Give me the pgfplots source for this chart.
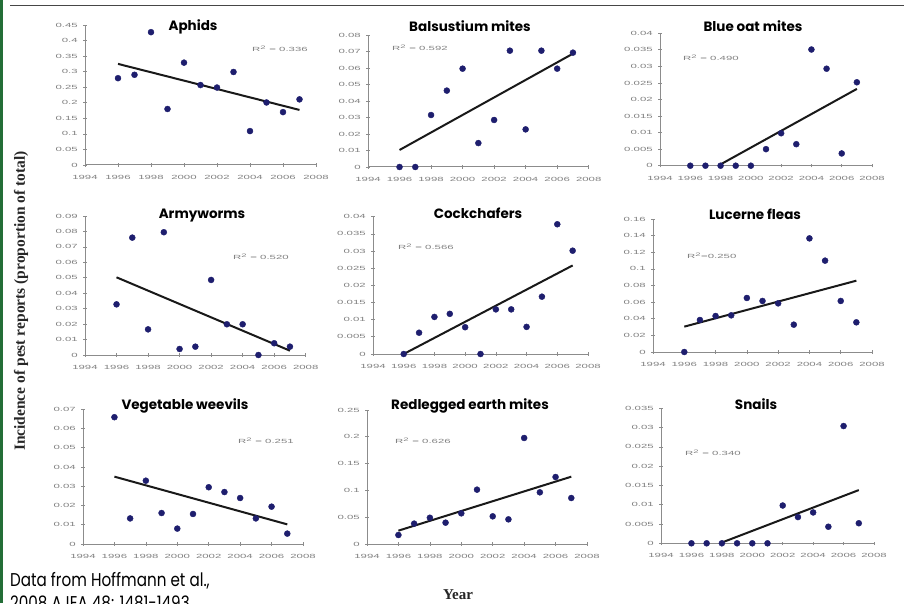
\documentclass[border=0pt]{standalone}
\usepackage{pgfplots}
\pgfplotsset{compat=1.18}
\usepackage{fontspec}
\setmainfont{Liberation Sans}
\newfontfamily\titlefont{Poppins}
\newfontfamily\notefont{Poppins}[FakeStretch=0.82]
\newfontfamily\tickfam{Liberation Sans}[FakeStretch=1.9]
\newfontfamily\serifb{Liberation Serif}
\definecolor{navy}{RGB}{30,30,110}
\definecolor{axisgray}{RGB}{140,140,140}
\definecolor{labelgray}{RGB}{130,130,130}
\definecolor{leftgreen}{RGB}{35,110,55}
\definecolor{topline}{RGB}{70,70,70}
\newcommand\tickfont{\tickfam\fontsize{6}{7}\selectfont}
\newcommand\ttl{\titlefont\bfseries\fontsize{13.5}{16}\selectfont}
\pgfplotsset{
  panel/.style={
    scale only axis, anchor=south west,
    xmin=1994, xmax=2008, ymin=0,
    axis x line=bottom, axis y line=left,
    axis line style={-, draw=axisgray, line width=1pt},
    xtick={1994,1996,1998,2000,2002,2004,2006,2008},
    tick style={draw=axisgray, line width=0.7pt},
    major tick length=3.5pt, tick align=center,
    scaled y ticks=false, scaled x ticks=false,
    ticklabel style={font=\tickfont, text=labelgray},
    xticklabel style={/pgf/number format/1000 sep={}, yshift=-5pt},
    yticklabel style={/pgf/number format/fixed, /pgf/number format/precision=3, xshift=-2pt},
    /pgf/number format/assume math mode=true,
    clip=false,
  },
  pts/.style={only marks, mark=*, mark size=3pt, color=navy},
  trend/.style={black!90, line width=2pt, no marks},
}
\begin{document}
\begin{tikzpicture}[x=1pt,y=1pt]
\path[use as bounding box, fill=white] (0,0) rectangle (904,603);
\fill[leftgreen] (0,0) rectangle (2.5,603);
\draw[topline, line width=1.6pt] (10,597.3) -- (904,597.3);

% Row 1
\begin{axis}[panel, at={(85pt,438pt)}, width=231pt, height=140pt, ymax=0.45,
  ytick={0,0.05,0.1,0.15,0.2,0.25,0.3,0.35,0.4,0.45}]
\addplot[pts] coordinates {(1996,0.279)(1997,0.290)(1998,0.427)(1999,0.180)(2000,0.329)(2001,0.257)(2002,0.249)(2003,0.299)(2004,0.109)(2005,0.201)(2006,0.170)(2007,0.211)};
\addplot[trend] coordinates {(1996,0.325)(2007,0.177)};
\end{axis}
\begin{axis}[panel, at={(368pt,436pt)}, width=220.7pt, height=132pt, ymax=0.08,
  ytick={0,0.01,0.02,0.03,0.04,0.05,0.06,0.07,0.08}]
\addplot[pts] coordinates {(1996,0)(1997,0)(1998,0.0315)(1999,0.0463)(2000,0.0596)(2001,0.0145)(2002,0.0285)(2003,0.0705)(2004,0.0228)(2005,0.0705)(2006,0.0596)(2007,0.0693)};
\addplot[trend] coordinates {(1996,0.0103)(2007,0.0687)};
\end{axis}
\begin{axis}[panel, at={(660pt,437.3pt)}, width=212pt, height=132.4pt, ymax=0.04,
  ytick={0,0.005,0.01,0.015,0.02,0.025,0.03,0.035,0.04}]
\addplot[pts] coordinates {(1996,0)(1997,0)(1998,0)(1999,0)(2000,0)(2001,0.005)(2002,0.0098)(2003,0.0065)(2004,0.0351)(2005,0.0293)(2006,0.0037)(2007,0.0252)};
\addplot[trend] coordinates {(1998,0.0004)(2007,0.0232)};
\end{axis}

% Row 2
\begin{axis}[panel, at={(85pt,248pt)}, width=220.7pt, height=139pt, ymax=0.09,
  ytick={0,0.01,0.02,0.03,0.04,0.05,0.06,0.07,0.08,0.09}]
\addplot[pts] coordinates {(1996,0.0328)(1997,0.0760)(1998,0.0166)(1999,0.0795)(2000,0.0039)(2001,0.0054)(2002,0.0486)(2003,0.0199)(2004,0.0199)(2005,0)(2006,0.0076)(2007,0.0054)};
\addplot[trend] coordinates {(1996,0.0503)(2007,0.0028)};
\end{axis}
\begin{axis}[panel, at={(373pt,249pt)}, width=215pt, height=137.3pt, ymax=0.04,
  ytick={0,0.005,0.01,0.015,0.02,0.025,0.03,0.035,0.04}]
\addplot[pts] coordinates {(1996,0)(1997,0.0062)(1998,0.0108)(1999,0.0117)(2000,0.0078)(2001,0)(2002,0.0130)(2003,0.0130)(2004,0.0079)(2005,0.0167)(2006,0.0378)(2007,0.0301)};
\addplot[trend] coordinates {(1996,0)(2007,0.0258)};
\end{axis}
\begin{axis}[panel, at={(653pt,251pt)}, width=219pt, height=133pt, ymax=0.16,
  ytick={0,0.02,0.04,0.06,0.08,0.1,0.12,0.14,0.16}]
\addplot[pts] coordinates {(1996,0)(1997,0.0385)(1998,0.0433)(1999,0.0441)(2000,0.065)(2001,0.0614)(2002,0.0585)(2003,0.0329)(2004,0.1367)(2005,0.1099)(2006,0.0614)(2007,0.0357)};
\addplot[trend] coordinates {(1996,0.0305)(2007,0.0858)};
\end{axis}

% Row 3
\begin{axis}[panel, at={(83pt,59pt)}, width=220pt, height=134.7pt, ymax=0.07,
  ytick={0,0.01,0.02,0.03,0.04,0.05,0.06,0.07}]
\addplot[pts] coordinates {(1996,0.0659)(1997,0.0133)(1998,0.0329)(1999,0.0161)(2000,0.008)(2001,0.0156)(2002,0.0295)(2003,0.027)(2004,0.0239)(2005,0.0133)(2006,0.0194)(2007,0.0054)};
\addplot[trend] coordinates {(1996,0.035)(2007,0.0102)};
\end{axis}
\begin{axis}[panel, at={(367pt,59pt)}, width=220pt, height=134pt, ymax=0.25,
  ytick={0,0.05,0.1,0.15,0.2,0.25}]
\addplot[pts] coordinates {(1996,0.0168)(1997,0.038)(1998,0.049)(1999,0.0398)(2000,0.0572)(2001,0.1014)(2002,0.0516)(2003,0.046)(2004,0.1978)(2005,0.0964)(2006,0.125)(2007,0.0858)};
\addplot[trend] coordinates {(1996,0.0249)(2007,0.1256)};
\end{axis}
\begin{axis}[panel, at={(661pt,59.7pt)}, width=213pt, height=135pt, ymax=0.035,
  ytick={0,0.005,0.01,0.015,0.02,0.025,0.03,0.035}]
\addplot[pts] coordinates {(1996,0)(1997,0)(1998,0)(1999,0)(2000,0)(2001,0)(2002,0.0098)(2003,0.0068)(2004,0.008)(2005,0.0043)(2006,0.0304)(2007,0.0052)};
\addplot[trend] coordinates {(1998,0.0002)(2007,0.0138)};
\end{axis}

% Titles
\node[font=\ttl, anchor=base] at (193,572) {Aphids};
\node[font=\ttl, anchor=base] at (470,571.3) {Balsustium mites};
\node[font=\ttl, anchor=base] at (753,571) {Blue oat mites};
\node[font=\ttl, anchor=base] at (202,384) {Armyworms};
\node[font=\ttl, anchor=base] at (478,384.7) {Cockchafers};
\node[font=\ttl, anchor=base] at (755,383.7) {Lucerne fleas};
\node[font=\ttl, anchor=base] at (185,194) {Vegetable weevils};
\node[font=\ttl, anchor=base] at (470,194) {Redlegged earth mites};
\node[font=\ttl, anchor=base] at (756,194) {Snails};

% R^2 labels
\begin{scope}[every node/.style={font=\tickfont, text=labelgray, anchor=west, inner sep=0}]
\node at (252,554) {R\textsuperscript{2} = 0.336};
\node at (392,555) {R\textsuperscript{2} = 0.592};
\node at (683,545) {R\textsuperscript{2} = 0.490};
\node at (233,346) {R\textsuperscript{2} = 0.520};
\node at (398,356) {R\textsuperscript{2} = 0.566};
\node at (687,347) {R\textsuperscript{2}=0.250};
\node at (238,162) {R\textsuperscript{2} = 0.251};
\node at (395,162) {R\textsuperscript{2} = 0.626};
\node at (685,150) {R\textsuperscript{2} = 0.340};
\end{scope}

% Axis titles
\node[text=black!85] at (21,302) {\rotatebox{90}{\serifb\bfseries\fontsize{15.5}{18}\selectfont Incidence of pest reports (proportion of total)}};
\node[anchor=base, text=black!85] at (458,4) {\serifb\bfseries\fontsize{15}{17}\selectfont Year};

% Source note
\node[anchor=base west, inner sep=0, font=\notefont\fontsize{18.5}{20}\selectfont] at (10,16.3) {Data from Hoffmann et al.,};
\node[anchor=base west, inner sep=0, font=\notefont\fontsize{18.5}{20}\selectfont] at (10,-6.5) {2008 AJEA 48: 1481-1493};
\end{tikzpicture}
\end{document}
